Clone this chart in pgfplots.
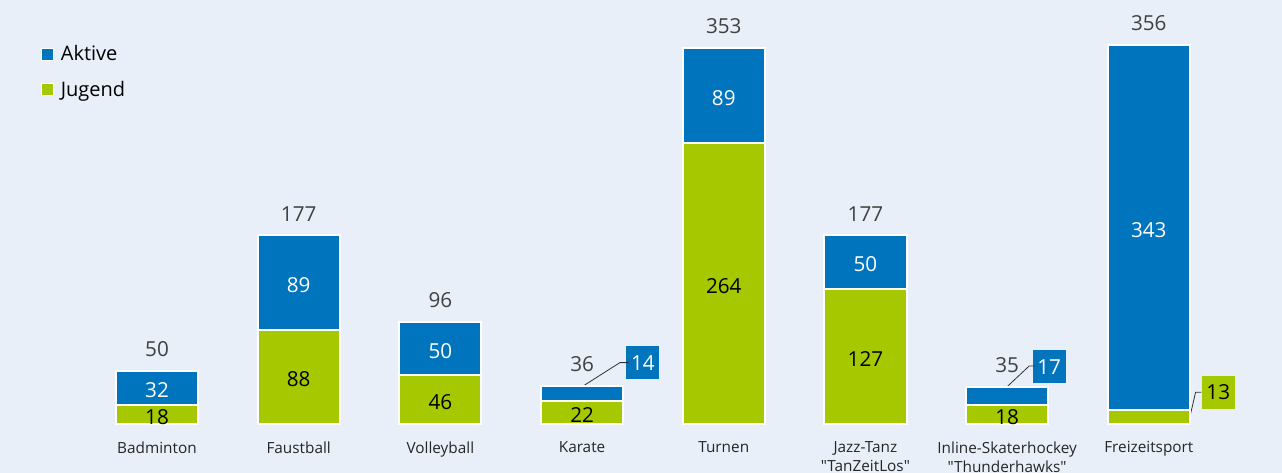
\documentclass[border=0pt]{standalone}
\usepackage{fontspec}
\setmainfont{Open Sans}
\newfontfamily\lab{Open Sans}
\usepackage{pgfplots}
\pgfplotsset{compat=1.18}
\definecolor{bg}{RGB}{232,239,248}
\definecolor{aktiv}{RGB}{0,117,190}
\definecolor{jugend}{RGB}{166,200,0}
\definecolor{total}{RGB}{64,64,64}
\pgfplotsset{
  sq legend/.style={legend image code/.code={\draw[fill=#1, draw=white, line width=0.75pt] (-2pt,-4.5pt) rectangle (7pt,4.5pt); \path (10.5pt,0pt);}},
  chartbox/.style={width=961.5pt, height=354.75pt, scale only axis,
    xmin=-1.108, xmax=7.94, ymin=-46, ymax=398, clip=false},
}

\begin{document}
\begin{tikzpicture}
\begin{axis}[
  chartbox,
  ybar stacked, bar width=0.58,
  axis x line=middle, axis y line=none, axis line style={draw=none},
  ytick=\empty, xtick={0,...,7}, major tick length=0pt,
  xticklabels={Badminton, Faustball, Volleyball, Karate, Turnen, {Jazz-Tanz\\"TanZeitLos"}, {Inline-Skaterhockey\\"Thunderhawks"}, Freizeitsport},
  xticklabel style={align=center, font=\lab\fontsize{11.5}{14.25}\selectfont, text=black!85, inner sep=0pt, anchor=north, yshift=-13pt},
  axis background/.style={fill=bg},
  legend style={draw=none, fill=none, at={(rel axis cs:0.0316,0.91)}, anchor=north west, font=\fontsize{15}{18}\selectfont, row sep=10pt, inner sep=0pt, legend cell align=left},
]
\addlegendimage{sq legend=aktiv}
\addlegendentry{Aktive}
\addlegendimage{sq legend=jugend}
\addlegendentry{Jugend}

% Jugend (unten)
\addplot[fill=jugend, draw=white, line width=1.5pt, forget plot]
  coordinates {(0,18) (1,88) (2,46) (3,22) (4,264) (5,127) (6,18) (7,13)};
% Aktive (oben)
\addplot[fill=aktiv, draw=white, line width=1.5pt, forget plot]
  coordinates {(0,32) (1,89) (2,50) (3,14) (4,89) (5,50) (6,17) (7,343)};

% Beschriftungen fuer kleine Segmente
\draw[black!80, line width=0.6pt] (axis cs:3.0,35) -- (axis cs:3.267,57.6) -- (axis cs:3.33,57.6);
\node[fill=aktiv, text=white, minimum size=24.75pt, inner sep=0pt, font=\fontsize{15.5}{18}\selectfont] at (axis cs:3.43,57.6) {14};
\draw[black!80, line width=0.6pt] (axis cs:6.0,35) -- (axis cs:6.156,54.5) -- (axis cs:6.2,54.5);
\node[fill=aktiv, text=white, minimum size=24.75pt, inner sep=0pt, font=\fontsize{15.5}{18}\selectfont] at (axis cs:6.297,53.8) {17};
\draw[black!80, line width=0.6pt] (axis cs:7.29,6.9) -- (axis cs:7.33,29.7) -- (axis cs:7.37,29.7);
\node[fill=jugend, text=black, minimum size=24.75pt, inner sep=0pt, font=\fontsize{15.5}{18}\selectfont] at (axis cs:7.49,29.6) {13};
\end{axis}

% Wertebeschriftungen: Segmentmitten und Summen
\begin{axis}[
  chartbox, hide axis,
  point meta=explicit symbolic,
  nodes near coords={\pgfplotspointmeta},
  every node near coord/.append style={font=\fontsize{15.5}{18}\selectfont, anchor=center, inner sep=0pt, yshift=-1.8pt},
]
\addplot[draw=none, every node near coord/.append style={text=black}]
  coordinates {(0,9)[18] (1,44)[88] (2,23)[46] (3,11)[22] (4,132)[264] (5,63.5)[127] (6,9)[18]};
\addplot[draw=none, every node near coord/.append style={text=white}]
  coordinates {(0,34)[32] (1,132.5)[89] (2,71)[50] (4,308.5)[89] (5,152)[50] (7,184.5)[343]};
\addplot[draw=none, every node near coord/.append style={text=total, yshift=18pt}]
  coordinates {(0,50)[50] (1,177)[177] (2,96)[96] (3,36)[36] (4,353)[353] (5,177)[177] (6,35)[35] (7,356)[356]};
\end{axis}
\pgfresetboundingbox
\path[use as bounding box] (current axis.south west) rectangle (current axis.north east);
\end{tikzpicture}
\end{document}
